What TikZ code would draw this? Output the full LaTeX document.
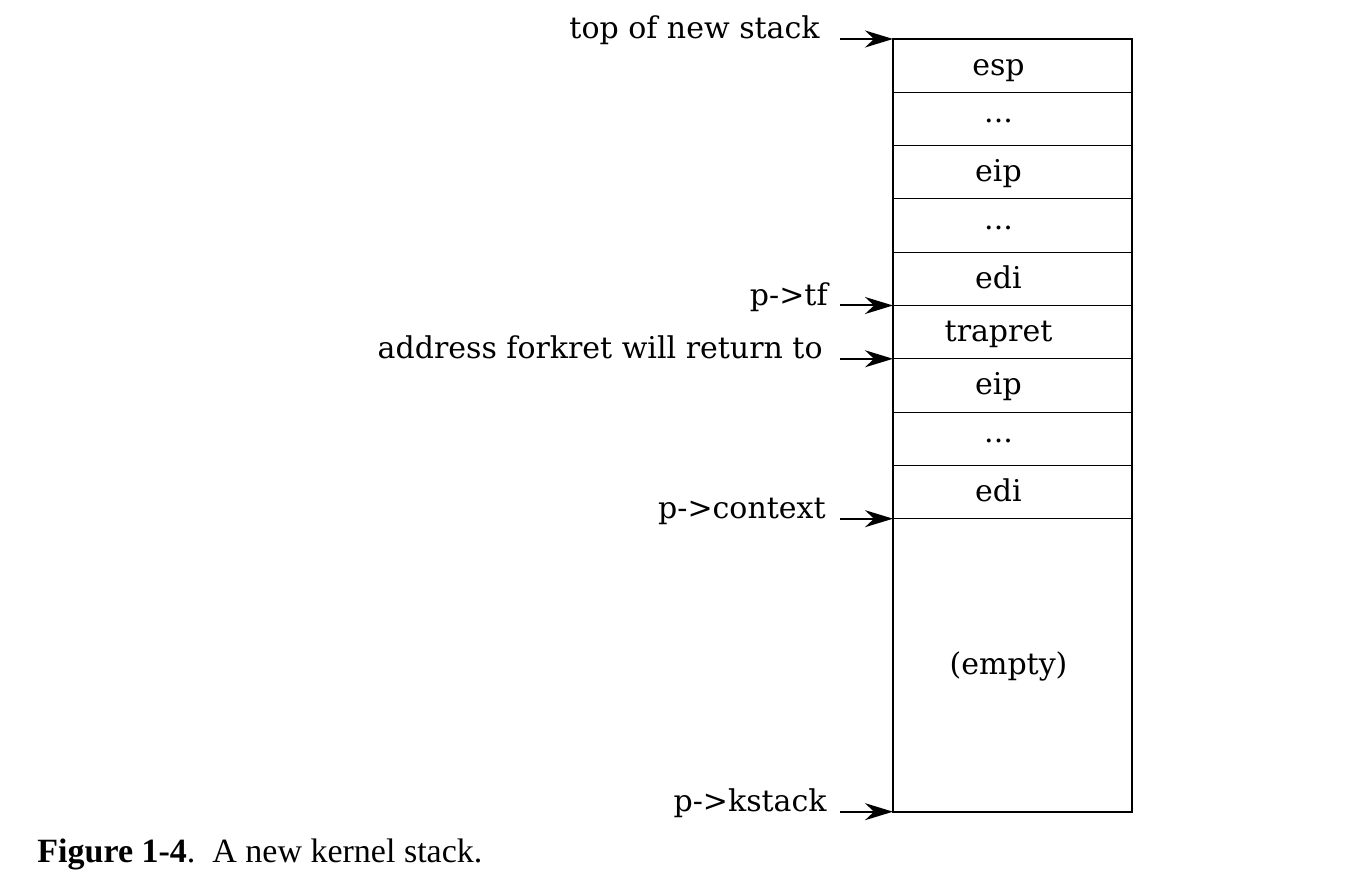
\documentclass[tikz,border=0pt]{standalone}
\usepackage{fontspec}
\setmainfont{DejaVu Serif}
\newfontfamily\capfont{Liberation Serif}
\usepackage{tikz}
\usetikzlibrary{arrows.meta,positioning}
\newcommand{\skipdots}{\raisebox{3pt}{...}}
\tikzset{
  cell/.style={draw, line width=0.5pt, minimum width=119.5pt, minimum height=26.65pt, inner sep=0pt, outer sep=0pt,
    text height=9.5pt, text depth=0pt, font=\fontsize{15}{18}\selectfont},
  slot/.style={cell, execute at end node={\hspace*{14pt}}},
  frame/.style={line width=1pt},
  ptr/.style={-{Stealth[length=14pt, width=8.5pt, inset=4.5pt]}, line width=1pt},
  ptrlabel/.style={anchor=base east, inner sep=0pt, font=\fontsize{15}{18}\selectfont}
}
\begin{document}
\begin{tikzpicture}[node distance=0pt]
  \useasboundingbox (0,0) rectangle (677pt,-443pt);
  % the stack, top to bottom
  \node[slot, anchor=north west] (esp) at (446.5pt,-19.5pt) {esp};
  \node[slot, below=of esp] (dotsa) {\skipdots};
  \node[slot, below=of dotsa] (eipa) {eip};
  \node[slot, below=of eipa] (dotsb) {\skipdots};
  \node[slot, below=of dotsb] (edia) {edi};
  \node[slot, below=of edia] (trapret) {trapret};
  \node[slot, below=of trapret] (eipb) {eip};
  \node[slot, below=of eipb] (dotsc) {\skipdots};
  \node[slot, below=of dotsc] (edib) {edi};
  \node[cell, below=of edib, minimum height=146.5pt, execute at end node={\hspace*{4pt}}] (empty) {(empty)};
  \draw[frame] (esp.north west) rectangle (empty.south east);

  % pointers into the stack
  \coordinate[left=26.5pt of esp.north west] (topsrc);
  \coordinate[left=26.5pt of trapret.north west] (tfsrc);
  \coordinate[left=26.5pt of eipb.north west] (retsrc);
  \coordinate[left=26.5pt of empty.north west] (ctxsrc);
  \coordinate[left=26.5pt of empty.south west] (kstsrc);
  \draw[ptr] (topsrc) -- (esp.north west);
  \draw[ptr] (tfsrc) -- (trapret.north west);
  \draw[ptr] (retsrc) -- (eipb.north west);
  \draw[ptr] (ctxsrc) -- (empty.north west);
  \draw[ptr] (kstsrc) -- (empty.south west);
  \node[ptrlabel, left=10pt of topsrc, anchor=base east] (toplbl) {top of new stack};
  \node[ptrlabel, left=6pt of tfsrc, anchor=base east] (tflbl) {p->tf};
  \node[ptrlabel, left=8.5pt of retsrc, anchor=base east] (retlbl) {address forkret will return to};
  \node[ptrlabel, left=7pt of ctxsrc, anchor=base east] (ctxlbl) {p->context};
  \node[ptrlabel, left=6.5pt of kstsrc, anchor=base east] (kstlbl) {p->kstack};

  \node[anchor=base west, inner sep=0pt, font=\capfont\fontsize{17}{19}\selectfont] (caption) at (18.5pt,-431pt)
    {\textbf{Figure 1-4}.\ \ A new kernel stack.};
\end{tikzpicture}
\end{document}
